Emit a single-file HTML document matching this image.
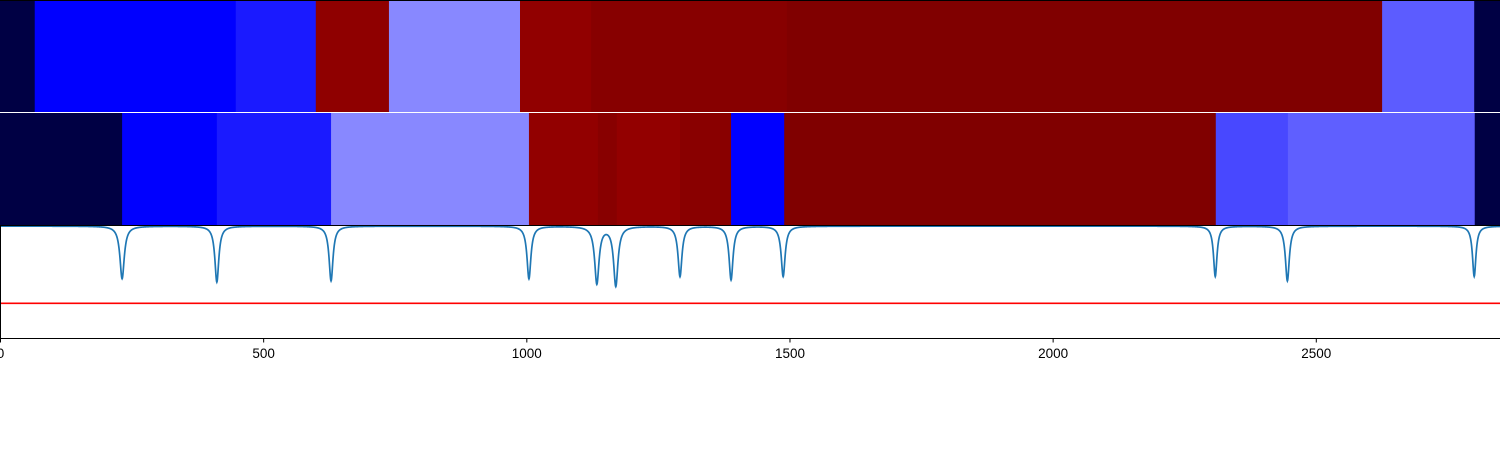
<!DOCTYPE html>
<html><head><meta charset="utf-8"><style>
html,body{margin:0;padding:0;background:#fff;width:1500px;height:450px;overflow:hidden}
svg text{font-family:"Liberation Sans",sans-serif;font-size:13.5px;fill:#000}
</style></head><body>
<svg id="chart" width="1500" height="450" xmlns="http://www.w3.org/2000/svg"></svg>
<script>
const xTicks=[0,500,1000,1500,2000,2500];
const band1Edges=[0,66,448,600,739,988,1123,1495,2626,2801,2850];
const band1Colors=["#000044","#0000ff","#1a1aff","#8f0000","#8888ff","#910000","#870000","#800000","#5c5cff","#000044"];
const band2Edges=[0,232,412,629,1005,1136,1172,1292,1389,1490,2310,2447,2802,2850];
const band2Colors=["#000044","#0000ff","#1a1aff","#8888ff","#920000","#880000","#930000","#890000","#0000ff","#800000","#4848ff","#5f5fff","#000044"];
const dipCenters=[232,412,629,1005,1134,1170,1292,1389,1488,2309,2446,2801];
const dipMins=[0.53,0.50,0.51,0.53,0.49,0.47,0.55,0.52,0.55,0.55,0.51,0.55];
const dipWidths=[5,4.5,4.5,4.5,5,5,4.5,4.5,4.5,4,4.5,4];
const thresholdValue=0.31;
const NS="http://www.w3.org/2000/svg";
const svg=document.getElementById('chart');
const X0=0,X1=1500,XMAX=2850;
const xs=v=>X0+v/XMAX*(X1-X0);
const ys=v=>338-v/1.01*113;
function mk(t,a){const e=document.createElementNS(NS,t);for(const k in a)e.setAttribute(k,a[k]);svg.appendChild(e);return e;}
function drawBand(edges,colors,y,h,name){
  for(let i=0;i<colors.length;i++){
    const r=mk('rect',{x:xs(edges[i]),y:y,width:xs(edges[i+1])-xs(edges[i])+0.5,height:h,fill:colors[i]});
    
    
  }
}
drawBand(band1Edges,band1Colors,0,112,'top-band');
drawBand(band2Edges,band2Colors,113,112,'middle-band');
let l=mk('line',{x1:0,y1:0.5,x2:1500,y2:0.5,stroke:'#000','stroke-width':1});


// line series
let pts=[];
for(let x=0;x<=XMAX;x+=0.5){
  let v=1;
  for(let i=0;i<dipCenters.length;i++){
    const d=(x-dipCenters[i])/dipWidths[i];
    v-=(1-dipMins[i])/(1+d*d);
  }
  pts.push(xs(x).toFixed(2)+','+ys(v).toFixed(2));
}
const pl=mk('polyline',{points:pts.join(' '),fill:'none',stroke:'#1f77b4','stroke-width':1.7});


l=mk('line',{x1:0,y1:225.5,x2:1500,y2:225.5,stroke:'#000','stroke-width':1});


const th=mk('line',{x1:0,x2:1500,y1:ys(thresholdValue),y2:ys(thresholdValue),stroke:'#ff0000','stroke-width':1.6});


// axes
l=mk('line',{x1:0.5,y1:225,x2:0.5,y2:338,stroke:'#000','stroke-width':1});


l=mk('line',{x1:0,y1:338.5,x2:1500,y2:338.5,stroke:'#000','stroke-width':1});


xTicks.forEach(t=>{
  const tk=mk('line',{x1:xs(t)+0.5,x2:xs(t)+0.5,y1:338,y2:342.5,stroke:'#000','stroke-width':1});
  
  
  const tx=mk('text',{x:xs(t)+0.5,y:358,'text-anchor':'middle'});
  tx.textContent=t;
  
  
});
</script>
</body></html>
